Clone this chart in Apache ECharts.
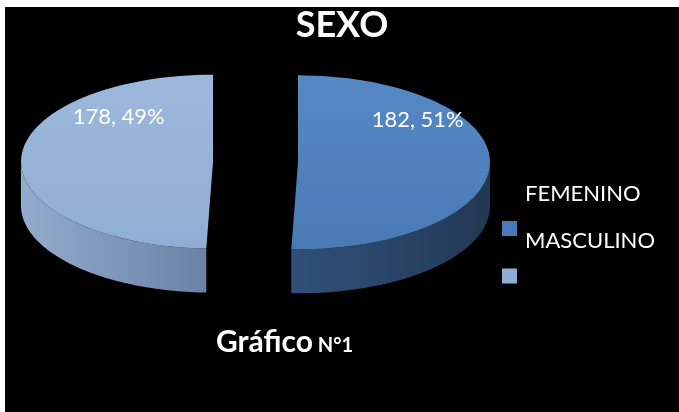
<!DOCTYPE html>
<html>
<head>
<meta charset="utf-8">
<script src="https://cdn.jsdelivr.net/npm/echarts@6/dist/echarts.min.js"></script>
<style>
  html, body { margin: 0; padding: 0; background: #fff; }
  #chart { position: absolute; left: 5px; top: 7px; width: 674px; height: 405px; background: #000; }
</style>
</head>
<body>
<div id="chart"></div>
<script>
// datos del gráfico
const categories = ['FEMENINO', 'MASCULINO']
const counts = [182, 178]

// estilos por porción
const topColors = [['#5588C5', '#4A7AB6'], ['#9CB9DB', '#90AED3']]
const wallColors = [['#30507A', '#223955'], ['#93ABCD', '#6A82A6']]

const total = counts.reduce((a, b) => a + b, 0)
const pie = { cx: 250.5, cy: 155, rx: 192, ry: 87, depth: 44, explode: 42.5 }

const makeSlice = (idx) => (params, api) => {
  const value = api.value(0)
  const before = counts.slice(0, idx).reduce((a, b) => a + b, 0)
  const start = before / total * Math.PI * 2
  const end = start + value / total * Math.PI * 2
  const mid = (start + end) / 2
  const ox = pie.explode * Math.sin(mid)
  const oy = -pie.explode * Math.cos(mid) * pie.ry / pie.rx
  const pt = (a, r = 1, dz = 0) => [
    pie.cx + ox + pie.rx * r * Math.sin(a),
    pie.cy + oy - pie.ry * r * Math.cos(a) + dz
  ]
  const arc = (a0, a1, dz) => {
    const pts = []
    const n = 72
    for (let k = 0; k <= n; k++) pts.push(pt(a0 + (a1 - a0) * k / n, 1, dz))
    return pts
  }
  const children = []
  // pared frontal visible
  const w0 = Math.max(start, Math.PI / 2)
  const w1 = Math.min(end, Math.PI * 1.5)
  if (w1 > w0) {
    children.push({
      type: 'polygon',
      shape: { points: arc(w0, w1, 0).concat(arc(w0, w1, pie.depth).reverse()) },
      style: {
        fill: new echarts.graphic.LinearGradient(0, 0, 1, 0, [
          { offset: 0, color: wallColors[idx][0] },
          { offset: 1, color: wallColors[idx][1] }
        ])
      }
    })
  }
  // cara superior
  children.push({
    type: 'polygon',
    shape: { points: [pt(0, 0)].concat(arc(start, end, 0)) },
    style: {
      fill: new echarts.graphic.LinearGradient(0, 0, 0, 1, [
        { offset: 0, color: topColors[idx][0] },
        { offset: 1, color: topColors[idx][1] }
      ])
    }
  })
  // etiqueta
  const la = mid + (mid < Math.PI ? -1 : 1) * 0.733
  const [lx, ly] = pt(la, 0.75)
  children.push({
    type: 'text',
    x: lx + 11,
    y: ly,
    style: {
      text: value + ', ' + Math.round(value / total * 100) + '%',
      fill: '#fff',
      fontSize: 22,
      fontFamily: 'Lato',
      align: 'center',
      verticalAlign: 'middle'
    }
  })
  return { type: 'group', children }
}

const chart = echarts.init(document.getElementById('chart'))
chart.setOption({
  backgroundColor: '#000',
  animation: false,
  title: [
    {
      text: 'SEXO',
      left: 'center',
      top: 0,
      padding: 0,
      textStyle: { color: '#fff', fontSize: 36, fontWeight: 'bold', fontFamily: 'Lato', lineHeight: 36 }
    },
    {
      text: '{a|Gráfico}{b| N°1}',
      left: 211,
      top: 320,
      padding: 0,
      textStyle: {
        rich: {
          a: { color: '#fff', fontSize: 30, fontWeight: 'bold', fontFamily: 'Lato', lineHeight: 30 },
          b: { color: '#fff', fontSize: 20, fontWeight: 'bold', fontFamily: 'Lato', lineHeight: 20, padding: [7, 0, 0, 0] }
        }
      }
    }
  ],
  legend: [
    {
      // solo marcadores
      data: categories,
      orient: 'vertical',
      left: 497,
      top: 214,
      padding: 0,
      icon: 'rect',
      itemWidth: 15,
      itemHeight: 15,
      itemGap: 32.5,
      selectedMode: false,
      formatter: () => '',
      textStyle: { fontSize: 10 }
    },
    {
      // solo textos
      data: categories,
      orient: 'vertical',
      left: 515,
      top: 176,
      padding: 0,
      icon: 'rect',
      itemWidth: 0,
      itemHeight: 15,
      itemGap: 24.5,
      selectedMode: false,
      itemStyle: { color: 'rgba(0,0,0,0)' },
      textStyle: { color: '#fff', fontSize: 22, fontFamily: 'Lato', lineHeight: 22 }
    }
  ],
  series: categories.map((name, i) => ({
    type: 'custom',
    name,
    coordinateSystem: 'none',
    silent: true,
    data: [counts[i]],
    itemStyle: { color: topColors[i][1] },
    renderItem: makeSlice(i)
  }))
})
</script>
</body>
</html>
